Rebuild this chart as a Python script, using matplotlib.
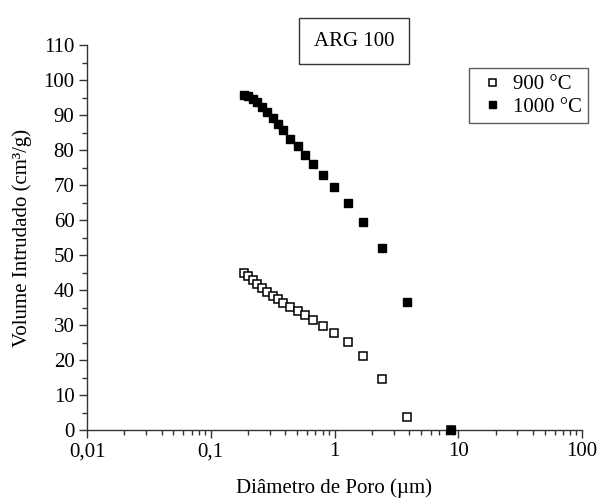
import matplotlib
matplotlib.use("Agg")
import matplotlib.pyplot as plt
from matplotlib.patches import Rectangle
from matplotlib.ticker import FixedLocator, LogLocator, NullFormatter, MultipleLocator

plt.rcParams['font.family'] = ['Liberation Serif', 'DejaVu Serif']

# pore diameter (um)
diametro = [0.186, 0.201, 0.219, 0.238, 0.258, 0.284, 0.321, 0.352, 0.386, 0.438,
            0.505, 0.579, 0.675, 0.804, 0.993, 1.28, 1.69, 2.41, 3.88, 8.76]
# intruded volume (cm3/g)
vol_900 = [45.0, 43.9, 42.9, 41.6, 40.5, 39.4, 38.4, 37.3, 36.4, 35.2,
           34.1, 32.9, 31.4, 29.7, 27.6, 25.2, 21.1, 14.6, 3.6, 0.0]
vol_1000 = [95.8, 95.3, 94.6, 93.7, 92.4, 91.0, 89.2, 87.5, 85.6, 83.2,
            81.1, 78.6, 76.0, 72.9, 69.4, 64.9, 59.4, 52.0, 36.6, 0.0]

x_ticks = [0.01, 0.1, 1, 10, 100]
x_labels = ['0,01', '0,1', '1', '10', '100']
y_ticks = list(range(0, 111, 10))

fs = 15

fig = plt.figure(figsize=(6.05, 4.99), dpi=100)
ax = fig.add_axes([87/605, 1 - 430/499, 495/605, 385/499])

ax.plot(diametro, vol_900, linestyle='none', marker='s', markersize=6.3,
        markerfacecolor='white', markeredgecolor='black', markeredgewidth=1.1,
        label='900 °C', clip_on=False, zorder=3)
ax.plot(diametro, vol_1000, linestyle='none', marker='s', markersize=6.3,
        markerfacecolor='black', markeredgecolor='black',
        label='1000 °C', clip_on=False, zorder=4)

ax.set_xscale('log')
ax.set_xlim(0.01, 100)
ax.set_ylim(0, 110)
ax.xaxis.set_major_locator(FixedLocator(x_ticks))
ax.set_xticklabels(x_labels)
ax.xaxis.set_minor_locator(LogLocator(base=10, subs=range(2, 10), numticks=20))
ax.xaxis.set_minor_formatter(NullFormatter())
ax.set_yticks(y_ticks)
ax.yaxis.set_minor_locator(MultipleLocator(5))

for s in ['top', 'right']:
    ax.spines[s].set_visible(False)
for s in ['left', 'bottom']:
    ax.spines[s].set_color('#333333')
    ax.spines[s].set_linewidth(1.0)

ax.tick_params(which='major', direction='out', length=6, width=1, color='#333333',
               labelsize=fs, pad=3)
ax.tick_params(which='minor', direction='out', length=3.5, width=1, color='#333333')

ax.set_xlabel('Diâmetro de Poro (µm)', fontsize=fs, labelpad=12)
ax.set_ylabel('Volume Intrudado (cm³/g)', fontsize=fs, labelpad=8)

leg = ax.legend(loc='upper right', bbox_to_anchor=(588/605, 1 - 68/499),
                bbox_transform=fig.transFigure, borderaxespad=0, fontsize=fs,
                frameon=True, fancybox=False, handlelength=1.55, handletextpad=0.25,
                borderpad=0.3, labelspacing=0.15, markerscale=0.8)
leg.get_frame().set_edgecolor('#333333')
leg.get_frame().set_linewidth(1.0)

# title box
fig.add_artist(Rectangle((299/605, 1 - 64/499), 110/605, 46/499,
                         transform=fig.transFigure, fill=False,
                         edgecolor='#333333', linewidth=1.0))
fig.text(354/605, 1 - 42/499, 'ARG 100', ha='center', va='center', fontsize=fs)

fig.savefig('out.png', dpi=100)
